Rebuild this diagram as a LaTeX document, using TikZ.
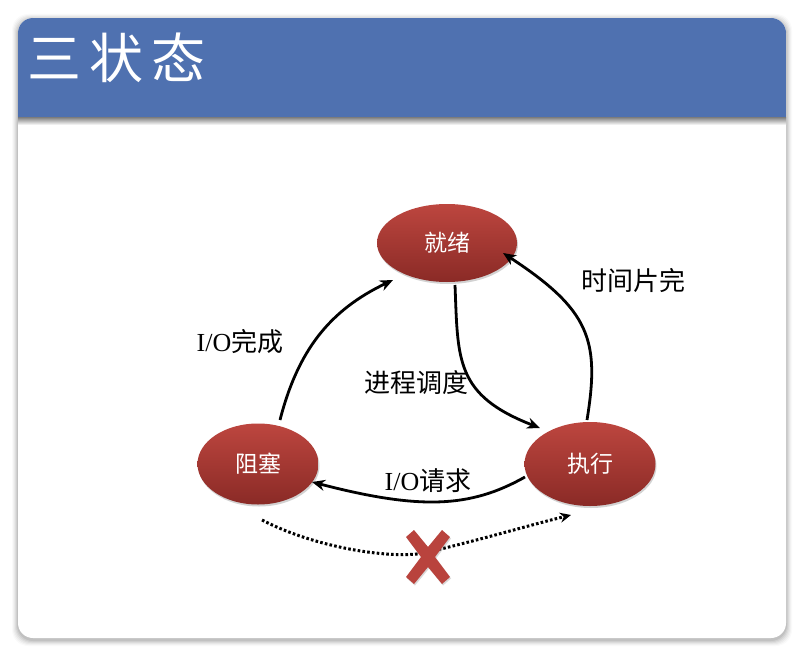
\documentclass[tikz,border=0pt]{standalone}
\usepackage{fontspec}
\setmainfont{Liberation Serif}
\newfontfamily\cjk{Noto Sans CJK SC}
\usetikzlibrary{shapes.geometric,arrows.meta,shadows,fadings}
\definecolor{hdr}{HTML}{4F71B0}
\definecolor{redtop}{HTML}{BD463F}
\definecolor{redbot}{HTML}{8A2A26}
\definecolor{xred}{HTML}{B9433D}
\tikzset{
  px/.style={x=1pt,y=-1pt},
  state/.style={ellipse, top color=redtop, bottom color=redbot, draw=none,
     text=white, font=\cjk\fontsize{23}{23}\selectfont,
     drop shadow={shadow xshift=1pt,shadow yshift=-2pt,opacity=0.35}},
  lbl/.style={font=\fontsize{26}{26}\selectfont, text=black},
  conn/.style={line width=2.8pt, -{Stealth[length=13pt,width=11pt]}},
  dots/.style={line width=3pt, dash pattern=on 2.6pt off 2.2pt, -{Stealth[length=11pt,width=10pt]}},
}
\begin{document}
\begin{tikzpicture}[px]
\useasboundingbox (0,0) rectangle (805,658);
% slide shadow
\foreach \i/\o in {6/0.02,5/0.03,4/0.04,3/0.05,2/0.06,1/0.07}{
  \fill[black,opacity=\o,rounded corners=16pt] (18-\i,18-\i+2) rectangle (786+\i,638+\i+2);
}
\fill[white,rounded corners=15pt] (18,18) rectangle (786,638);
% header
\begin{scope}
\clip[rounded corners=15pt] (18,18) rectangle (786,160);
\fill[hdr] (18,18) rectangle (786,118);
\end{scope}
\fill[top color=black!45,bottom color=white,draw=none] (18,118) rectangle (786,125);
\node[anchor=west, text=white, font=\cjk\fontsize{54}{54}\selectfont] (title) at (24,58) {三\hspace{8pt}状\hspace{8pt}态};

% states
\node[state, minimum width=140pt, minimum height=78pt] (ready) at (447,243) {就绪};
\node[state, minimum width=121pt, minimum height=81pt] (block) at (258,464) {阻塞};
\node[state, minimum width=131pt, minimum height=84pt] (run) at (590,464) {执行};

% connectors
\coordinate (a1) at (280,420);
\coordinate (a2) at (393,280);
\draw[conn] (a1) .. controls (298,350) and (330,310) .. (a2);
\coordinate (b1) at (455,285);
\coordinate (b2) at (540,428);
\draw[conn] (b1) .. controls (458,360) and (455,395) .. (b2);
\coordinate (c1) at (587,420);
\coordinate (c2) at (503,253);
\draw[conn] (c1) .. controls (600,340) and (590,310) .. (c2);
\coordinate (d1) at (525,477);
\coordinate (d2) at (312,482);
\draw[conn] (d1) .. controls (470,508) and (420,510) .. (d2);
\coordinate (e1) at (262,520);
\coordinate (e2) at (571,515);
\draw[dots] (e1) .. controls (320,550) and (400,560) .. (428,552) .. controls (480,540) and (530,525) .. (e2);

% red X
\begin{scope}[shift={(428,557)}]
\fill[xred,drop shadow={shadow xshift=1pt,shadow yshift=-1.5pt,opacity=0.3}]
 (-22,-20) -- (-14,-27) -- (0,-10) -- (14,-27) -- (22,-20) -- (7,0) -- (22,20) -- (14,27) -- (0,10) -- (-14,27) -- (-22,20) -- (-7,0) -- cycle;
\end{scope}

% labels
\node[lbl] (l1) at (240,342) {I/O{\cjk 完成}};
\node[lbl] (l2) at (416,383) {\cjk 进程调度};
\node[lbl] (l3) at (633,281) {\cjk 时间片完};
\node[lbl] (l4) at (428,481) {I/O{\cjk 请求}};
\end{tikzpicture}
\end{document}
